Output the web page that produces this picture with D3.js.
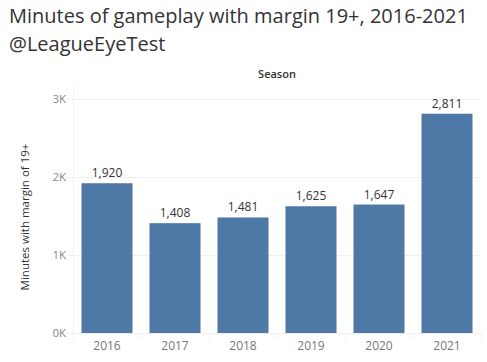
<!DOCTYPE html>
<html lang="en">
<head>
<meta charset="utf-8">
<title>Minutes of gameplay with margin 19+</title>
<script src="https://cdn.jsdelivr.net/npm/d3@7"></script>
<style>
  html, body { margin: 0; padding: 0; background: #fff; }
  text { font-family: "Open Sans", "DejaVu Sans", sans-serif; }
  .axis path, .axis line { stroke: #f0f0f0; shape-rendering: crispEdges; }
  .grid line { stroke: #f0f0f0; shape-rendering: crispEdges; }
</style>
</head>
<body>
<script>
var seasons = ["2016", "2017", "2018", "2019", "2020", "2021"];
var minutes = [1920, 1408, 1481, 1625, 1647, 2811];
var yTicks = [0, 1000, 2000, 3000];

var W = 487, H = 362;
var pLeft = 73, pRight = 481, pTop = 99, pBottom = 333;

var svg = d3.select("body").append("svg").attr("width", W).attr("height", H);

svg.append("text").attr("x", 9).attr("y", 23)
  .attr("font-size", 20).attr("fill", "#333")
  .text("Minutes of gameplay with margin 19+, 2016-2021");
svg.append("text").attr("x", 9).attr("y", 51)
  .attr("font-size", 20).attr("fill", "#333")
  .text("@LeagueEyeTest");

var x = d3.scaleBand().domain(seasons).range([pLeft, pRight])
  .paddingInner(0.25).paddingOuter(0.125);
var y = d3.scaleLinear().domain([0, 3000]).range([pBottom, pTop]);

svg.append("text").attr("x", (pLeft + pRight) / 2).attr("y", 78)
  .attr("text-anchor", "middle").attr("font-size", 11).attr("font-weight", 600)
  .attr("fill", "#333").text("Season");

// gridlines
svg.append("g").attr("class", "grid")
  .selectAll("line").data(yTicks).join("line")
  .attr("x1", pLeft - 6).attr("x2", pRight)
  .attr("y1", function(d) { return Math.round(y(d)) + 0.5; })
  .attr("y2", function(d) { return Math.round(y(d)) + 0.5; });

// y axis line
svg.append("line").attr("x1", pLeft + 0.5).attr("x2", pLeft + 0.5)
  .attr("y1", 86).attr("y2", pBottom + 6).attr("stroke", "#f0f0f0");

svg.append("g").selectAll("text").data(yTicks).join("text")
  .attr("x", pLeft - 7).attr("y", function(d) { return y(d) + 4; })
  .attr("text-anchor", "end").attr("font-size", 11.5).attr("fill", "#888")
  .text(function(d) { return (d / 1000) + "K"; });

svg.append("text")
  .attr("transform", "translate(29," + ((pTop + pBottom) / 2 + 1) + ") rotate(-90)")
  .attr("text-anchor", "middle").attr("font-size", 11.5).attr("fill", "#333")
  .text("Minutes with margin of 19+");

// bars
svg.append("g").selectAll("rect").data(minutes).join("rect")
  .attr("x", function(d, i) { return x(seasons[i]); })
  .attr("width", x.bandwidth())
  .attr("y", function(d) { return y(d); })
  .attr("height", function(d) { return pBottom - y(d); })
  .attr("fill", "#4e79a7");

svg.append("g").selectAll("text").data(minutes).join("text")
  .attr("x", function(d, i) { return x(seasons[i]) + x.bandwidth() / 2; })
  .attr("y", function(d) { return y(d) - 6; })
  .attr("text-anchor", "middle").attr("font-size", 12).attr("fill", "#333")
  .text(function(d) { return d3.format(",")(d); });

// x axis
var xAxis = d3.axisBottom(x).tickSize(0).tickPadding(8);
var gx = svg.append("g").attr("class", "axis")
  .attr("transform", "translate(0," + (pBottom + 0.5) + ")").call(xAxis);
gx.select(".domain").attr("d", "M" + pLeft + ",0H" + pRight);
gx.selectAll("text").attr("font-size", 12).attr("fill", "#777")
  .attr("font-family", "\"Open Sans\", sans-serif");
gx.selectAll(".sep").data(d3.range(seasons.length + 1)).join("line")
  .attr("class", "sep").attr("stroke", "#f0f0f0")
  .attr("x1", function(i) { return pLeft + i * x.step() + 0.5; })
  .attr("x2", function(i) { return pLeft + i * x.step() + 0.5; })
  .attr("y1", 0).attr("y2", 5);
</script>
</body>
</html>
